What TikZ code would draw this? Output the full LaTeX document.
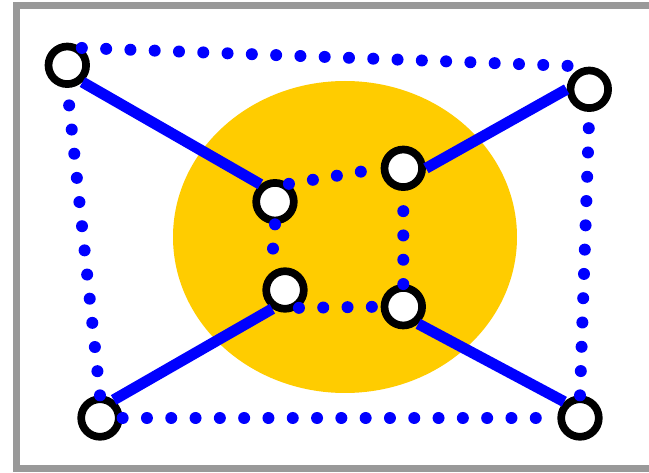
\documentclass[tikz,border=0pt]{standalone}
\usetikzlibrary{shapes.geometric}
\definecolor{frame}{HTML}{999999}
\definecolor{blob}{HTML}{FFCC00}
\begin{document}
\begin{tikzpicture}[x=1pt,y=-1pt,
  ring/.style={circle,draw=black,fill=white,line width=7.7pt,minimum size=37.6pt,inner sep=0pt},
  solidedge/.style={draw=blue,line width=11pt},
  dotedge/.style={draw=blue,line width=12pt,line cap=round,dash pattern=on 0pt off 24.3pt}]
\useasboundingbox (0,0) rectangle (649,473);
\fill[white] (0,0) rectangle (649,473);
\draw[frame,line width=7pt] (16.5,5.5) rectangle (680,468.5);
\fill[blob] (345,237) ellipse [x radius=172, y radius=156];
\node[ring] (a) at (67.3,65.3) {};
\node[ring] (b) at (589.3,89.3) {};
\node[ring] (c) at (275,201.7) {};
\node[ring] (d) at (403.3,168.3) {};
\node[ring] (e) at (285,290) {};
\node[ring] (f) at (403.3,306.7) {};
\node[ring] (g) at (100,418) {};
\node[ring] (h) at (580,418) {};
\draw[solidedge] (a.-48) -- (c.130);
\draw[solidedge] (d.east) -- (b.west);
\draw[solidedge] (e.-124) -- (g.53);
\draw[solidedge] (f.-49) -- (h.134);
\draw[dotedge] (a.50) -- (b.north);
\draw[dotedge] (h.north) -- (b.south);
\draw[dotedge] (g.east) -- (h.west);
\draw[dotedge] (g.north) -- (a.south);
\draw[dotedge] (c.52) -- (d.west);
\draw[dotedge] (f.north) -- (d.south);
\draw[dotedge] (e.-52) -- (f.west);
\draw[dotedge] (c.south) -- (e.128);
\end{tikzpicture}
\end{document}
